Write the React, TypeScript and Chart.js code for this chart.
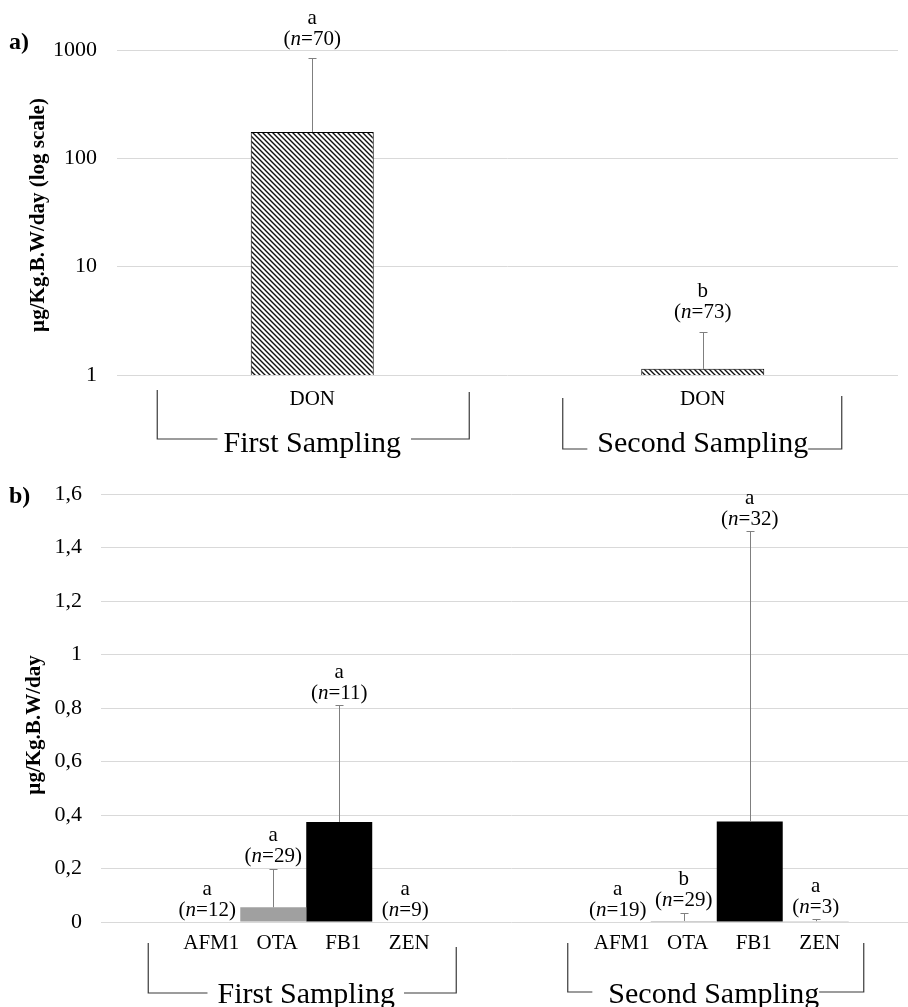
import React, { useEffect, useRef } from 'react';
import { Chart, registerables } from 'chart.js';

Chart.register(...registerables);

const FONT = '"Liberation Serif", "Times New Roman", serif';

// ---------- Panel a) DON, log scale ----------
const donCategories = ['DON', 'DON'];
const donGroups = ['First Sampling', 'Second Sampling'];
const donMeans = [175, 1.14];
const donSD = [668, 1.36];
const donLetters = ['a', 'b'];
const donN = [70, 73];
const logTicks = [1, 10, 100, 1000];

// ---------- Panel b) other mycotoxins ----------
const samplingGroups = ['First Sampling', 'Second Sampling'];
const toxins = ['AFM1', 'OTA', 'FB1', 'ZEN'];
const afm1Means = [0, 0];
const otaMeans = [0.055, 0.004];
const fb1Means = [0.374, 0.376];
const zenMeans = [0, 0.003];
const afm1SD = [0, 0];
const otaSD = [0.145, 0.03];
const fb1SD = [0.436, 1.085];
const zenSD = [0, 0.008];
const afm1Letters = ['a', 'a'];
const otaLetters = ['a', 'b'];
const fb1Letters = ['a', 'a'];
const zenLetters = ['a', 'a'];
const afm1N = [12, 19];
const otaN = [29, 29];
const fb1N = [11, 32];
const zenN = [9, 3];
const linearTicks = [0, 0.2, 0.4, 0.6, 0.8, 1, 1.2, 1.4, 1.6];

const toxinColors = ['#d9d9d9', '#a0a0a0', '#000000', '#8c8c8c'];

function makeHatch(): CanvasPattern | string {
  const s = 5;
  const c = document.createElement('canvas');
  c.width = s;
  c.height = s;
  const g = c.getContext('2d');
  if (!g) return '#888';
  g.fillStyle = '#ffffff';
  g.fillRect(0, 0, s, s);
  g.strokeStyle = '#111';
  g.lineWidth = 1.4;
  g.beginPath();
  g.moveTo(-1, -1);
  g.lineTo(s + 1, s + 1);
  g.moveTo(-1, s - 1);
  g.lineTo(1, s + 1);
  g.moveTo(s - 1, -1);
  g.lineTo(s + 1, 1);
  g.stroke();
  return g.createPattern(c, 'repeat') || '#888';
}

function drawN(ctx: CanvasRenderingContext2D, cx: number, cy: number, n: number, size: number) {
  const parts = [
    { t: '(', it: false },
    { t: 'n', it: true },
    { t: '=' + n + ')', it: false },
  ];
  const fonts = parts.map((p) => `${p.it ? 'italic ' : ''}${size}px ${FONT}`);
  let total = 0;
  const widths = parts.map((p, i) => {
    ctx.font = fonts[i];
    const w = ctx.measureText(p.t).width;
    total += w;
    return w;
  });
  let x = cx - total / 2;
  ctx.textAlign = 'left';
  ctx.textBaseline = 'middle';
  parts.forEach((p, i) => {
    ctx.font = fonts[i];
    ctx.fillText(p.t, x, cy);
    x += widths[i];
  });
}

const errorBarPlugin = {
  id: 'errbars',
  afterDatasetsDraw(chart: any) {
    const ctx = chart.ctx;
    const y = chart.scales.y;
    chart.data.datasets.forEach((ds: any, di: number) => {
      if (!ds.sd) return;
      const meta = chart.getDatasetMeta(di);
      meta.data.forEach((bar: any, i: number) => {
        const sd = ds.sd[i];
        if (!sd) return;
        const base = y.getPixelForValue(ds.data[i] || y.min);
        const top = y.getPixelForValue((ds.data[i] || 0) + sd);
        const x = Math.round(bar.x) + 0.5;
        ctx.save();
        ctx.strokeStyle = '#7f7f7f';
        ctx.lineWidth = 1;
        ctx.beginPath();
        ctx.moveTo(x, base);
        ctx.lineTo(x, Math.round(top) + 0.5);
        ctx.moveTo(x - 4, Math.round(top) + 0.5);
        ctx.lineTo(x + 4, Math.round(top) + 0.5);
        ctx.stroke();
        ctx.restore();
      });
    });
  },
};

const annotationPlugin = {
  id: 'annot',
  afterDraw(chart: any, _args: any, opts: any) {
    const ctx = chart.ctx;
    const y = chart.scales.y;
    chart.data.datasets.forEach((ds: any, di: number) => {
      if (!ds.letters) return;
      const meta = chart.getDatasetMeta(di);
      meta.data.forEach((bar: any, i: number) => {
        const v = (ds.data[i] || 0) + ((ds.sd && ds.sd[i]) || 0);
        const top = v > 0 ? y.getPixelForValue(v) : y.getPixelForValue(y.min);
        const nY = top - opts.nGap;
        const lY = nY - opts.letterGap;
        ctx.save();
        ctx.fillStyle = '#000';
        drawN(ctx, bar.x, nY, ds.ns[i], opts.size);
        ctx.font = `${opts.size}px ${FONT}`;
        ctx.textAlign = 'center';
        ctx.textBaseline = 'middle';
        ctx.fillText(ds.letters[i], bar.x, lY);
        ctx.restore();
      });
    });
  },
};

const bracketPlugin = {
  id: 'brackets',
  afterDraw(chart: any, _args: any, opts: any) {
    const ctx = chart.ctx;
    const x = chart.scales.x;
    opts.groups.forEach((label: string, i: number) => {
      const c = x.getPixelForValue(i);
      const b = opts.shape[i];
      ctx.save();
      ctx.font = `${opts.size}px ${FONT}`;
      const w = ctx.measureText(label).width;
      const tc = c + b.dx;
      const t0 = tc - w / 2;
      const t1 = tc + w / 2;
      ctx.strokeStyle = '#3a3a3a';
      ctx.lineWidth = 1.2;
      ctx.beginPath();
      ctx.moveTo(c + b.l, b.top);
      ctx.lineTo(c + b.l, b.bottom);
      ctx.lineTo(Math.max(c + b.l, t0 - b.gapL), b.bottom);
      ctx.moveTo(Math.min(c + b.r, t1 + b.gapR), b.bottom);
      ctx.lineTo(c + b.r, b.bottom);
      ctx.lineTo(c + b.r, b.topR);
      ctx.stroke();
      ctx.fillStyle = '#000';
      ctx.textAlign = 'center';
      ctx.textBaseline = 'alphabetic';
      ctx.fillText(label, tc, b.baseline);
      ctx.restore();
    });
  },
};

const toxinLabelPlugin = {
  id: 'toxlabels',
  afterDraw(chart: any, _args: any, opts: any) {
    if (!opts || !opts.enabled) return;
    const ctx = chart.ctx;
    chart.data.datasets.forEach((ds: any, di: number) => {
      const meta = chart.getDatasetMeta(di);
      meta.data.forEach((bar: any) => {
        ctx.save();
        ctx.fillStyle = '#000';
        ctx.font = `${opts.size}px ${FONT}`;
        ctx.textAlign = 'center';
        ctx.textBaseline = 'middle';
        ctx.fillText(ds.label, bar.x + opts.dx, opts.y);
        ctx.restore();
      });
    });
  },
};

const decorPlugin = {
  id: 'decor',
  afterDraw(chart: any, _args: any, opts: any) {
    const ctx = chart.ctx;
    ctx.save();
    ctx.fillStyle = '#000';
    ctx.font = `bold ${opts.panelSize}px ${FONT}`;
    ctx.textAlign = 'left';
    ctx.textBaseline = 'middle';
    ctx.fillText(opts.panel, opts.panelX, opts.panelY);
    ctx.translate(opts.titleX, opts.titleY);
    ctx.rotate(-Math.PI / 2);
    ctx.font = `bold ${opts.titleSize}px ${FONT}`;
    ctx.textAlign = 'center';
    ctx.textBaseline = 'middle';
    ctx.fillText(opts.title, 0, 0);
    ctx.restore();
  },
};

function formatComma(v: number): string {
  if (Math.abs(v) < 1e-9) return '0';
  if (Math.abs(v - Math.round(v)) < 1e-9) return String(Math.round(v));
  return v.toFixed(1).replace('.', ',');
}

export default function App() {
  const topRef = useRef<HTMLCanvasElement>(null);
  const botRef = useRef<HTMLCanvasElement>(null);

  useEffect(() => {
    if (!topRef.current || !botRef.current) return;

    const topChart = new Chart(topRef.current, {
      type: 'bar',
      data: {
        labels: donCategories,
        datasets: [
          {
            label: 'DON',
            data: donMeans,
            sd: donSD,
            letters: donLetters,
            ns: donN,
            backgroundColor: makeHatch(),
            borderColor: '#000',
            borderWidth: 1,
            categoryPercentage: 1,
            barPercentage: 0.315,
          } as any,
        ],
      },
      options: {
        responsive: false,
        animation: false,
        layout: { padding: { top: 50, right: 10, bottom: 0, left: 0 } },
        plugins: {
          legend: { display: false },
          tooltip: { enabled: false },
          annot: { nGap: 19, letterGap: 21, size: 21 },
          brackets: {
            groups: donGroups,
            size: 30,
            shape: [
              { l: -155, r: 157, top: 390, topR: 392, bottom: 439, dx: 0, gapL: 6, gapR: 10, baseline: 452 },
              { l: -140, r: 139, top: 398, topR: 396, bottom: 449, dx: 0, gapL: 10, gapR: 0, baseline: 452 },
            ],
          },
          decor: {
            panel: 'a)',
            panelX: 9,
            panelY: 43,
            panelSize: 24,
            title: 'µg/Kg.B.W/day (log scale)',
            titleX: 39,
            titleY: 215,
            titleSize: 21,
          },
        } as any,
        scales: {
          x: {
            grid: { display: false, drawTicks: false },
            border: { display: false },
            ticks: { font: { family: FONT, size: 21 }, color: '#000', padding: 12, maxRotation: 0 },
            afterFit: (s: any) => {
              s.height = 85;
            },
          },
          y: {
            type: 'logarithmic',
            min: 1,
            max: 1000,
            afterBuildTicks: (s: any) => {
              s.ticks = logTicks.map((v) => ({ value: v }));
            },
            ticks: {
              callback: (v: any) => String(v),
              font: { family: FONT, size: 22 },
              color: '#000',
              padding: 20,
            },
            grid: { color: '#d9d9d9', lineWidth: 1, drawTicks: false },
            border: { display: false },
            afterFit: (s: any) => {
              s.width = 117;
            },
          },
        },
      },
      plugins: [errorBarPlugin, annotationPlugin, bracketPlugin, decorPlugin],
    });

    const means = [afm1Means, otaMeans, fb1Means, zenMeans];
    const sds = [afm1SD, otaSD, fb1SD, zenSD];
    const letters = [afm1Letters, otaLetters, fb1Letters, zenLetters];
    const ns = [afm1N, otaN, fb1N, zenN];

    const botChart = new Chart(botRef.current, {
      type: 'bar',
      data: {
        labels: samplingGroups,
        datasets: toxins.map(
          (t, k) =>
            ({
              label: t,
              data: means[k],
              sd: sds[k],
              letters: letters[k],
              ns: ns[k],
              backgroundColor: toxinColors[k],
              borderWidth: 0,
              categoryPercentage: 0.643,
              barPercentage: 1,
            } as any)
        ),
      },
      options: {
        responsive: false,
        animation: false,
        layout: { padding: { top: 34, right: 2, bottom: 0, left: 0 } },
        plugins: {
          legend: { display: false },
          tooltip: { enabled: false },
          annot: { nGap: 12, letterGap: 21, size: 21 },
          toxlabels: { enabled: true, y: 483, size: 21, dx: 4 },
          brackets: {
            groups: samplingGroups,
            size: 30,
            shape: [
              { l: -158, r: 150, top: 483, topR: 487, bottom: 533, dx: 0, gapL: 10, gapR: 9, baseline: 543 },
              { l: -149, r: 147, top: 483, topR: 483, bottom: 532, dx: -3, gapL: 16, gapR: 0, baseline: 543 },
            ],
          },
          decor: {
            panel: 'b)',
            panelX: 9,
            panelY: 37,
            panelSize: 24,
            title: 'µg/Kg.B.W/day',
            titleX: 35,
            titleY: 265,
            titleSize: 21,
          },
        } as any,
        scales: {
          x: {
            grid: { display: false, drawTicks: false },
            border: { display: false },
            ticks: { display: false },
            afterFit: (s: any) => {
              s.height = 85;
            },
          },
          y: {
            min: 0,
            max: 1.6,
            afterBuildTicks: (s: any) => {
              s.ticks = linearTicks.map((v) => ({ value: v }));
            },
            ticks: {
              callback: (v: any) => formatComma(Number(v)),
              font: { family: FONT, size: 22 },
              color: '#000',
              padding: 19,
            },
            grid: { color: '#d9d9d9', lineWidth: 1, drawTicks: false },
            border: { display: false },
            afterFit: (s: any) => {
              s.width = 101;
            },
          },
        },
      },
      plugins: [errorBarPlugin, annotationPlugin, bracketPlugin, toxinLabelPlugin, decorPlugin],
    });

    return () => {
      topChart.destroy();
      botChart.destroy();
    };
  }, []);

  return (
    <div
      style={{
        position: 'fixed',
        left: 0,
        top: 0,
        width: 908,
        height: 1007,
        overflow: 'hidden',
        background: '#fff',
      }}
    >
      <canvas ref={topRef} width={908} height={460} style={{ position: 'absolute', left: 0, top: 0 }} />
      <canvas ref={botRef} width={924} height={547} style={{ position: 'absolute', left: 0, top: 460 }} />
    </div>
  );
}
